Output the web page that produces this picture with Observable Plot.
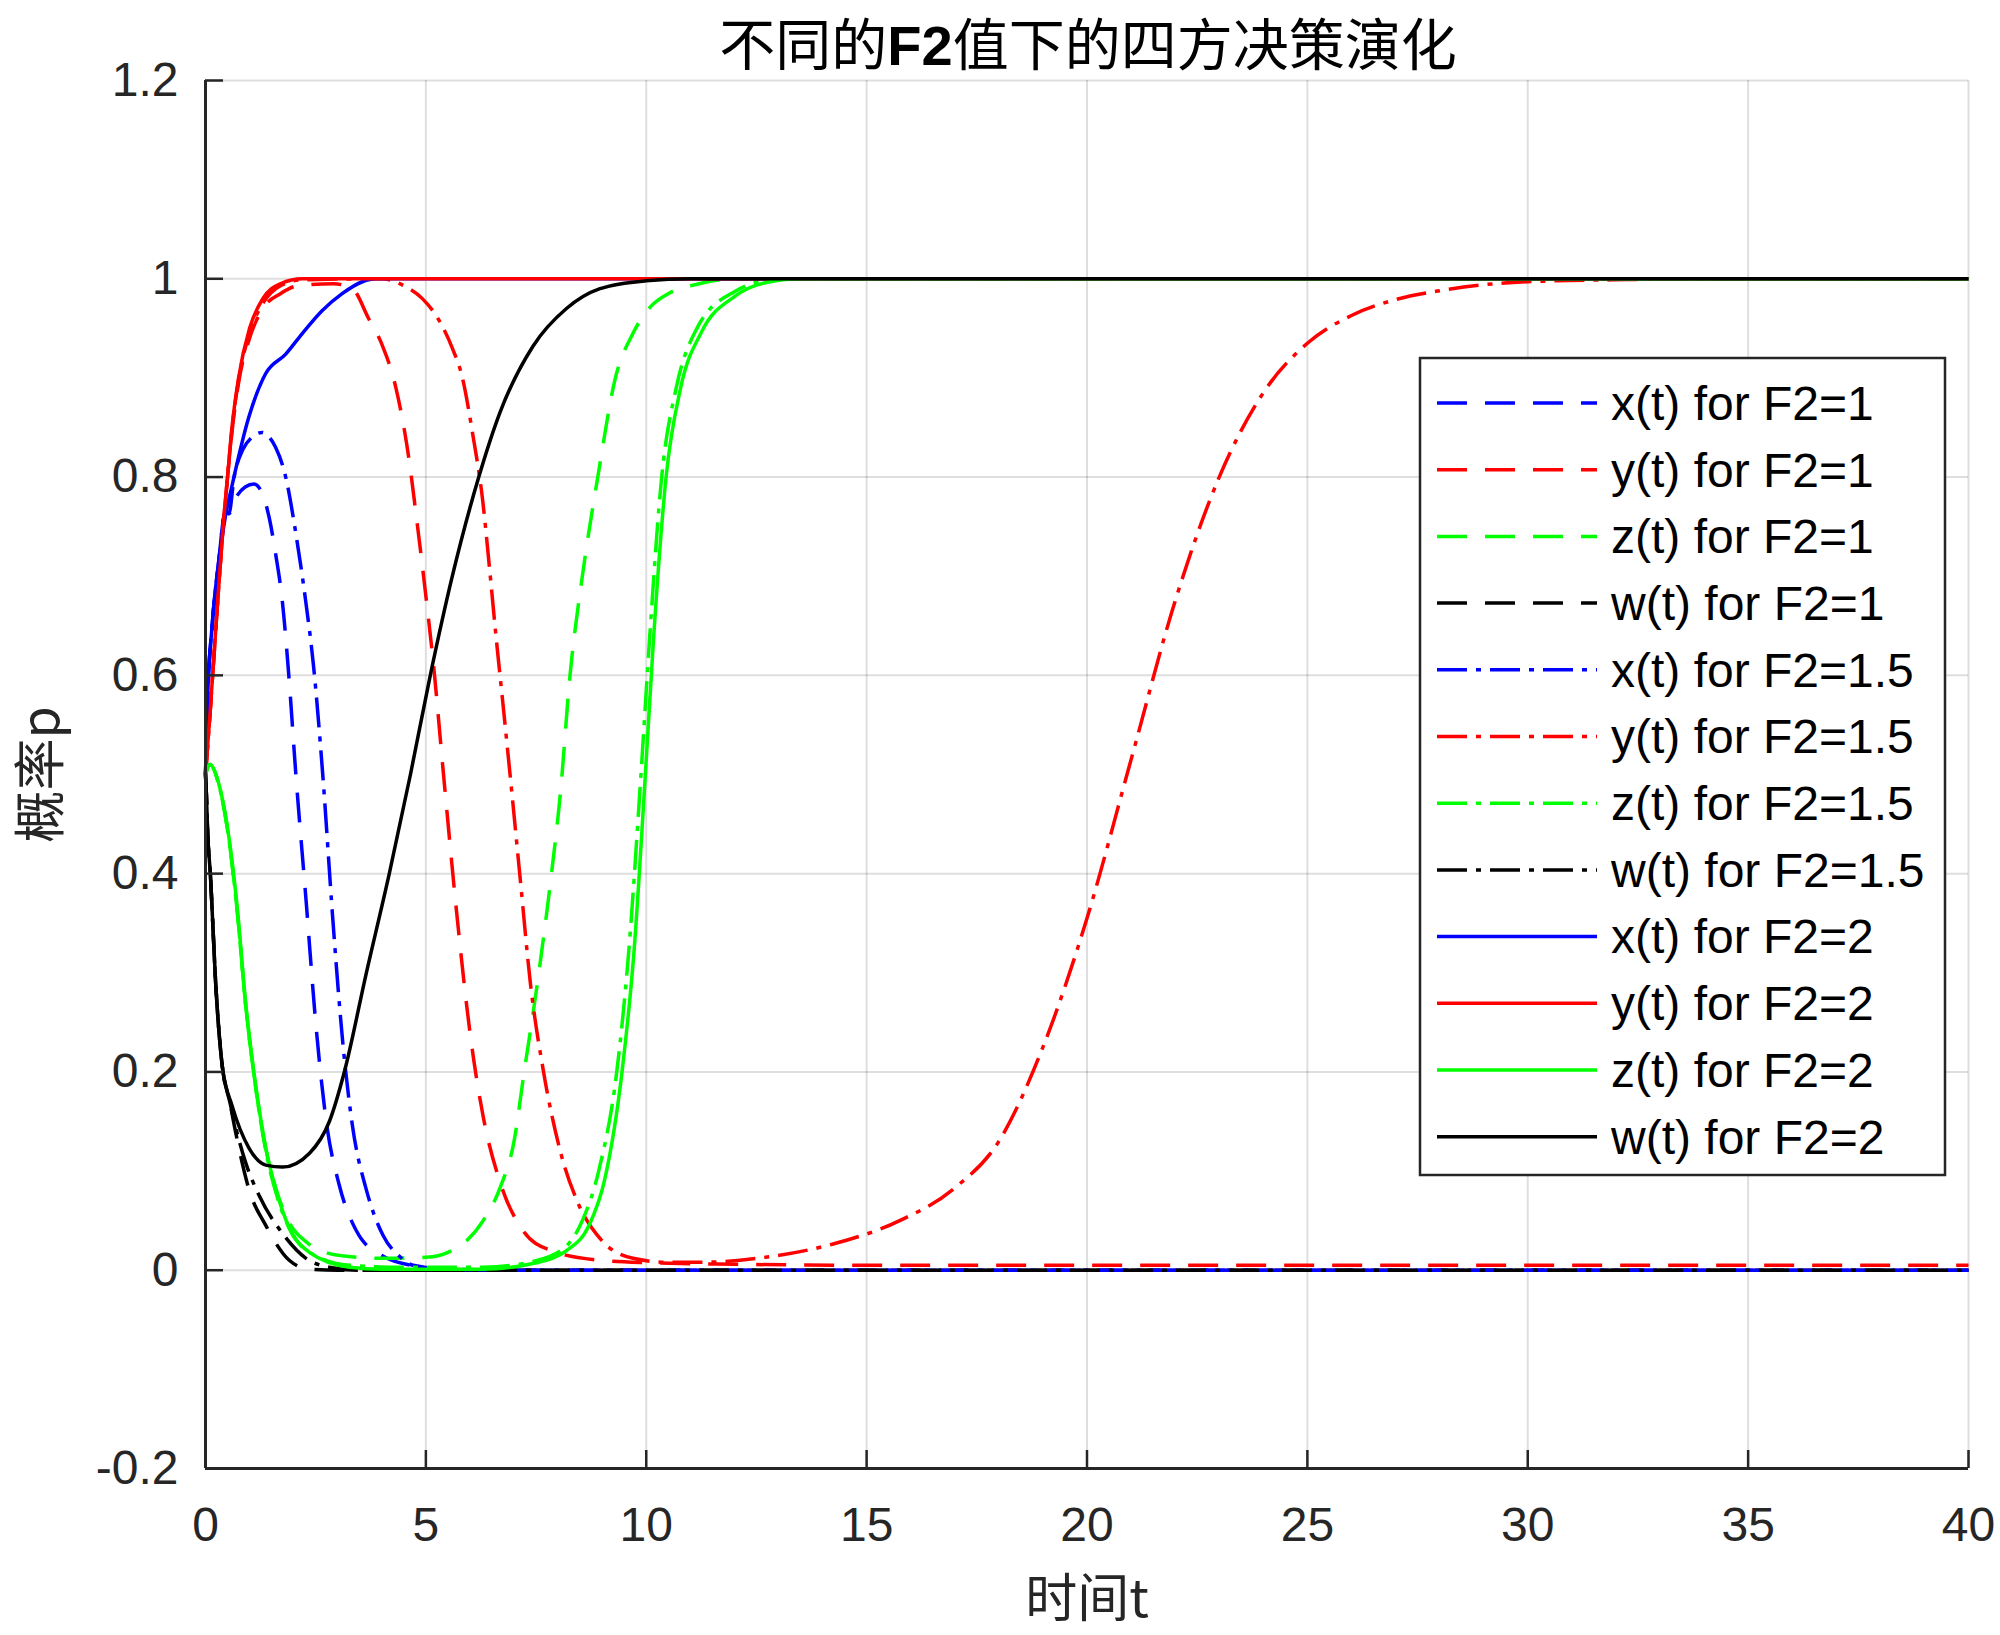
<!DOCTYPE html>
<html>
<head>
<meta charset="utf-8">
<script src="https://cdn.jsdelivr.net/npm/d3@7"></script>
<script src="https://cdn.jsdelivr.net/npm/@observablehq/plot@0.6"></script>
<style>
html,body{margin:0;padding:0;background:#fff;}
#wrap{position:relative;width:2000px;height:1635px;overflow:hidden;background:#fff;}
#title{position:absolute;left:88px;width:2000px;top:0px;text-align:center;font-family:"Noto Sans CJK SC";font-size:56px;line-height:normal;color:#000;white-space:nowrap;}
#title b{font-family:"Liberation Sans";font-weight:bold;}
#chart{position:absolute;left:0;top:0;}
#legend{position:absolute;left:0;top:0;}
</style>
</head>
<body>
<div id="wrap">
  <div id="chart"></div>
  <div id="legend"></div>
  <div id="title">不同的<b>F2</b>值下的四方决策演化</div>
</div>
<script>
// ---------- axis ticks ----------
const xTicks = [0, 5, 10, 15, 20, 25, 30, 35, 40];
const yTicks = [-0.2, 0, 0.2, 0.4, 0.6, 0.8, 1, 1.2];
const xLabel = "时间t";
const yLabel = "概率p";

// ---------- series values: [t, p] ----------
// x(t) for F2=1
const x_F2_1 = [[0,0.5],[0.05,0.58],[0.15,0.65],[0.3,0.715],[0.45,0.765],[0.53,0.763],[0.7,0.78],[0.9,0.79],[1.1,0.793],[1.3,0.782],[1.45,0.758],[1.6,0.72],[1.74,0.676],[1.89,0.6],[2.05,0.5],[2.28,0.374],[2.5,0.25],[2.74,0.15],[3.04,0.085],[3.42,0.04],[4.03,0.014],[4.79,0.004],[5.5,0.001],[7,0],[40,0]];
// y(t) for F2=1
const y_F2_1 = [[0,0.5],[0.1,0.56],[0.2,0.625],[0.3,0.69],[0.4,0.75],[0.5,0.8],[0.6,0.845],[0.75,0.895],[1.0,0.94],[1.3,0.97],[1.7,0.985],[2.1,0.993],[2.9,0.995],[3.33,0.99],[3.7,0.96],[4.0,0.934],[4.32,0.89],[4.62,0.817],[4.77,0.765],[5.0,0.68],[5.17,0.612],[5.4,0.5],[5.7,0.36],[6.0,0.24],[6.3,0.155],[6.69,0.088],[7.22,0.039],[7.83,0.02],[8.97,0.01],[10.1,0.0075],[12,0.006],[15,0.005],[40,0.005]];
// z(t) for F2=1
const z_F2_1 = [[0,0.5],[0.1,0.51],[0.3,0.49],[0.53,0.435],[0.72,0.362],[0.91,0.268],[1.14,0.184],[1.37,0.122],[1.6,0.082],[1.9,0.048],[2.3,0.028],[2.6,0.02],[3.2,0.014],[4.0,0.012],[5.0,0.013],[5.6,0.02],[5.93,0.03],[6.3,0.05],[6.7,0.085],[7.0,0.13],[7.23,0.2],[7.5,0.28],[7.85,0.4],[8.05,0.48],[8.27,0.6],[8.55,0.7],[8.9,0.8],[9.3,0.9],[9.7,0.945],[10.1,0.972],[10.5,0.985],[11.2,0.995],[12,1],[40,1]];
// w(t) for F2=1
const w_F2_1 = [[0,0.5],[0.02,0.48],[0.05,0.44],[0.11,0.4],[0.23,0.29],[0.38,0.206],[0.55,0.17],[0.68,0.14],[0.99,0.081],[1.37,0.045],[1.9,0.01],[2.36,0.001],[3,0],[40,0]];
// x(t) for F2=1.5
const x_F2_15 = [[0,0.5],[0.05,0.58],[0.15,0.65],[0.3,0.715],[0.45,0.765],[0.53,0.763],[0.65,0.8],[0.85,0.828],[1.05,0.84],[1.29,0.845],[1.45,0.84],[1.59,0.83],[1.82,0.8],[2.05,0.743],[2.27,0.676],[2.45,0.61],[2.66,0.5],[2.89,0.353],[3.12,0.227],[3.34,0.144],[3.65,0.081],[4.03,0.035],[4.4,0.014],[4.71,0.005],[5.5,0.001],[7,0],[40,0]];
// y(t) for F2=1.5
const y_F2_15 = [[0,0.5],[0.1,0.56],[0.2,0.625],[0.3,0.69],[0.4,0.75],[0.5,0.8],[0.6,0.848],[0.75,0.898],[1.0,0.945],[1.3,0.975],[1.7,0.993],[2.2,0.999],[4.0,1.0],[4.5,0.993],[4.92,0.98],[5.3,0.958],[5.6,0.93],[5.83,0.9],[6.06,0.844],[6.29,0.776],[6.44,0.71],[6.59,0.64],[6.74,0.575],[6.91,0.5],[7.14,0.395],[7.37,0.29],[7.67,0.2],[8.05,0.12],[8.43,0.07],[8.97,0.031],[9.7,0.012],[10.5,0.008],[11.2,0.008],[12.7,0.013],[14.2,0.026],[15.75,0.05],[17,0.083],[18,0.13],[19,0.225],[20,0.355],[21,0.515],[22,0.675],[23,0.8],[24,0.885],[25,0.935],[26,0.963],[27,0.979],[28,0.988],[29,0.994],[30,0.997],[32,0.999],[34,1],[40,1]];
// z(t) for F2=1.5
const z_F2_15 = [[0,0.5],[0.1,0.51],[0.3,0.49],[0.53,0.435],[0.72,0.362],[0.91,0.268],[1.14,0.184],[1.37,0.12],[1.6,0.078],[1.9,0.042],[2.36,0.018],[3.27,0.005],[4.5,0.003],[6.3,0.003],[7.45,0.009],[8.2,0.025],[8.55,0.05],[8.92,0.1],[9.33,0.2],[9.6,0.32],[9.88,0.5],[10.08,0.64],[10.35,0.8],[10.68,0.89],[11.15,0.95],[12,0.987],[13,1],[40,1]];
// w(t) for F2=1.5
const w_F2_15 = [[0,0.5],[0.02,0.48],[0.05,0.44],[0.11,0.4],[0.23,0.29],[0.38,0.206],[0.55,0.17],[0.68,0.145],[0.9,0.11],[1.22,0.075],[1.75,0.037],[2.28,0.012],[2.8,0.003],[3.5,0],[40,0]];
// x(t) for F2=2
const x_F2_2 = [[0,0.5],[0.05,0.58],[0.15,0.65],[0.3,0.715],[0.45,0.76],[0.61,0.793],[0.98,0.86],[1.36,0.904],[1.82,0.924],[2.2,0.945],[2.65,0.968],[3.1,0.985],[3.56,0.997],[3.86,1.0],[40,1]];
// y(t) for F2=2
const y_F2_2 = [[0,0.5],[0.1,0.56],[0.2,0.625],[0.3,0.69],[0.4,0.75],[0.5,0.8],[0.6,0.85],[0.75,0.9],[1.0,0.95],[1.3,0.98],[1.7,0.995],[2.2,1.0],[40,1]];
// z(t) for F2=2
const z_F2_2 = [[0,0.5],[0.1,0.51],[0.3,0.491],[0.53,0.437],[0.72,0.366],[0.91,0.27],[1.14,0.186],[1.37,0.123],[1.6,0.081],[1.9,0.043],[2.36,0.018],[3.27,0.003],[4,0.001],[6.3,0.001],[7.45,0.007],[8.2,0.02],[8.7,0.045],[9.05,0.09],[9.45,0.2],[9.72,0.32],[9.98,0.5],[10.17,0.64],[10.45,0.8],[10.78,0.89],[11.25,0.946],[12,0.982],[12.7,0.996],[13.5,1],[40,1]];
// w(t) for F2=2
const w_F2_2 = [[0,0.5],[0.02,0.48],[0.05,0.44],[0.11,0.4],[0.23,0.29],[0.38,0.206],[0.61,0.165],[0.99,0.123],[1.37,0.106],[1.75,0.104],[2.36,0.118],[2.81,0.15],[3.15,0.2],[3.65,0.3],[4.17,0.4],[4.65,0.5],[5.1,0.6],[5.6,0.7],[6.2,0.8],[6.68,0.865],[7.43,0.932],[8.19,0.97],[8.95,0.99],[10,0.998],[11,1],[40,1]];

const seriesNames = ["x(t) for F2=1","y(t) for F2=1","z(t) for F2=1","w(t) for F2=1",
  "x(t) for F2=1.5","y(t) for F2=1.5","z(t) for F2=1.5","w(t) for F2=1.5",
  "x(t) for F2=2","y(t) for F2=2","z(t) for F2=2","w(t) for F2=2"];
const seriesValues = [x_F2_1,y_F2_1,z_F2_1,w_F2_1,x_F2_15,y_F2_15,z_F2_15,w_F2_15,x_F2_2,y_F2_2,z_F2_2,w_F2_2];

// ---------- styles ----------
const colorOf = {x:"#0000ff", y:"#ff0000", z:"#00ff00", w:"#000000"};
const dashOf = {"1":"30,18", "1.5":"30,9,5,9", "2":null};
const LW = 3.5;

const series = seriesNames.map((name, i) => {
  const v = name[0];
  const f = name.split("=")[1];
  return {name, color: colorOf[v], dash: dashOf[f], data: seriesValues[i].map(([t,p]) => ({t,p}))};
});

const lineMarks = series.map(s => Plot.line(s.data, {
  x: "t", y: "p", stroke: s.color, strokeWidth: LW,
  strokeDasharray: s.dash, curve: "monotone-x", strokeLinecap: "butt"
}));

const chart = Plot.plot({
  width: 2000, height: 1635,
  marginLeft: 205, marginRight: 32, marginTop: 80, marginBottom: 167,
  style: {fontFamily: "'Liberation Sans', Arial, sans-serif", fontSize: "48px", color: "#262626", background: "#fff"},
  x: {domain: [0, 40]},
  y: {domain: [-0.2, 1.2]},
  marks: [
    Plot.gridX(xTicks, {stroke: "#000", strokeOpacity: 0.13, strokeWidth: 2}),
    Plot.gridY(yTicks, {stroke: "#000", strokeOpacity: 0.13, strokeWidth: 2}),
    ...lineMarks,
    Plot.axisX({ticks: xTicks, tickSize: 0, tickPadding: 38, tickFormat: d => String(d), label: null, fontSize: 48}),
    Plot.axisY({ticks: yTicks, tickSize: 0, tickPadding: 27, tickFormat: d => String(d), label: null, fontSize: 48}),
    Plot.axisX({ticks: xTicks, tickSize: -18, tickFormat: () => "", label: null, stroke: "#262626", strokeWidth: 2.5}),
    Plot.axisY({ticks: yTicks, tickSize: -18, tickFormat: () => "", label: null, stroke: "#262626", strokeWidth: 2.5}),
    Plot.ruleX([0], {stroke: "#262626", strokeWidth: 3}),
    Plot.ruleY([-0.2], {stroke: "#262626", strokeWidth: 3}),
    Plot.text([xLabel], {text: d => d, frameAnchor: "bottom", dy: 132, fontSize: 52, textAnchor: "middle", lineAnchor: "middle", fill: "#262626", fontFamily: "'Noto Sans CJK SC'"}),
    Plot.text([yLabel], {text: d => d, frameAnchor: "left", dx: -163, rotate: -90, fontSize: 52, textAnchor: "middle", lineAnchor: "middle", fill: "#262626", fontFamily: "'Noto Sans CJK SC'"})
  ]
});
document.getElementById("chart").appendChild(chart);

// ---------- legend (inside axes, upper right) ----------
const lg = d3.select("#legend").append("svg").attr("width", 2000).attr("height", 1635)
  .style("position","absolute").style("left","0px").style("top","0px");
lg.append("rect").attr("x", 1420).attr("y", 358).attr("width", 525).attr("height", 817)
  .attr("fill", "#fff").attr("stroke", "#262626").attr("stroke-width", 2.5);
series.forEach((s, i) => {
  const cy = 403 + i * 66.7;
  lg.append("line").attr("x1", 1437).attr("x2", 1597).attr("y1", cy).attr("y2", cy)
    .attr("stroke", s.color).attr("stroke-width", LW).attr("stroke-dasharray", s.dash);
  lg.append("text").attr("x", 1611).attr("y", cy).attr("dy", "0.35em")
    .attr("font-family", "'Liberation Sans', Arial, sans-serif").attr("font-size", 48).attr("fill", "#000")
    .text(s.name);
});
</script>
</body>
</html>
